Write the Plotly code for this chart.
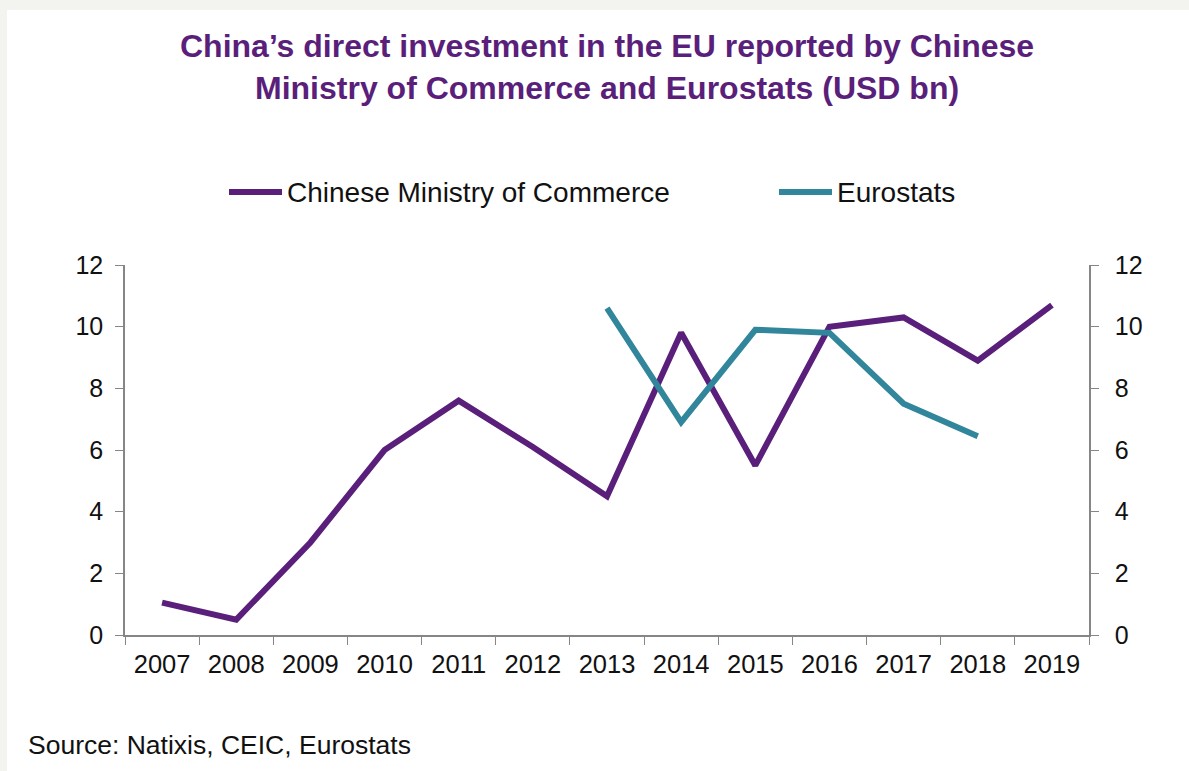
import plotly.graph_objects as go

# Annual China direct investment into the EU, USD bn
years = ["2007", "2008", "2009", "2010", "2011", "2012", "2013",
         "2014", "2015", "2016", "2017", "2018", "2019"]
mofcom = [1.05, 0.5, 3.0, 6.0, 7.6, 6.1, 4.5, 9.8, 5.5, 10.0, 10.3, 8.9, 10.7]
eurostat_years = ["2013", "2014", "2015", "2016", "2017", "2018"]
eurostat = [10.6, 6.9, 9.9, 9.8, 7.5, 6.45]
y_ticks = [0, 2, 4, 6, 8, 10, 12]

series_names = ["Chinese Ministry of Commerce", "Eurostats"]
PURPLE = "#5a1f7a"
TEAL = "#31869b"
AXIS = "#868686"
FONT = "Liberation Sans, Arial, sans-serif"

W, H = 1189, 771
L, R, T, B = 125, 1089, 265, 635  # plot-area edges in pixels


def px(x):
    return (x - L) / (R - L)


def py(y):
    return (B - y) / (B - T)


fig = go.Figure()
fig.add_trace(go.Scatter(x=years, y=mofcom, mode="lines", name=series_names[0],
                         line=dict(color=PURPLE, width=6), showlegend=False,
                         yaxis="y"))
fig.add_trace(go.Scatter(x=eurostat_years, y=eurostat, mode="lines", name=series_names[1],
                         line=dict(color=TEAL, width=6), showlegend=False,
                         yaxis="y2"))

shapes = [
    # white card over the light grey page
    dict(type="rect", xref="paper", yref="paper", x0=px(7), x1=px(W + 5),
         y0=py(H + 5), y1=py(10), fillcolor="white", line=dict(width=0), layer="below"),
    # legend keys
    dict(type="line", xref="paper", yref="paper", x0=px(229), x1=px(282),
         y0=py(192), y1=py(192), line=dict(color=PURPLE, width=6)),
    dict(type="line", xref="paper", yref="paper", x0=px(779), x1=px(832),
         y0=py(192), y1=py(192), line=dict(color=TEAL, width=6)),
]

annotations = [
    dict(text="China’s direct investment in the EU reported by Chinese<br>"
              "Ministry of Commerce and Eurostats (USD bn)",
         xref="paper", yref="paper", x=px(607), y=py(67), xanchor="center",
         yanchor="middle", showarrow=False,
         font=dict(family=FONT, size=32, color=PURPLE, weight="bold")),
    dict(text=series_names[0], xref="paper", yref="paper", x=px(285), y=py(192),
         xanchor="left", yanchor="middle", showarrow=False,
         font=dict(family=FONT, size=28, color="#111111")),
    dict(text=series_names[1], xref="paper", yref="paper", x=px(835), y=py(192),
         xanchor="left", yanchor="middle", showarrow=False,
         font=dict(family=FONT, size=28, color="#111111")),
    dict(text="Source: Natixis, CEIC, Eurostats", xref="paper", yref="paper",
         x=px(26), y=py(745), xanchor="left", yanchor="middle", showarrow=False,
         font=dict(family=FONT, size=26.5, color="#111111")),
]

axis_common = dict(range=[0, 12], tickvals=y_ticks, ticks="outside", ticklen=8,
                   tickcolor=AXIS, showline=True, linecolor=AXIS, linewidth=1.5,
                   showgrid=False, zeroline=False,
                   tickfont=dict(family=FONT, size=25, color="#111111"))

fig.update_layout(
    width=W, height=H,
    margin=dict(l=L, r=W - R, t=T, b=H - B),
    paper_bgcolor="#f3f3ef",
    plot_bgcolor="rgba(0,0,0,0)",
    showlegend=False,
    xaxis=dict(type="category", categoryarray=years, range=[-0.5, 12.5],
               ticks="outside", tickson="boundaries", ticklen=8, tickcolor=AXIS,
               showline=True, linecolor=AXIS, linewidth=1.5, showgrid=False,
               ticklabelstandoff=6,
               tickfont=dict(family=FONT, size=25.5, color="#111111")),
    yaxis=dict(side="left", ticklabelstandoff=7, **axis_common),
    yaxis2=dict(side="right", overlaying="y", ticklabelstandoff=11, **axis_common),
    shapes=shapes,
    annotations=annotations,
)

fig.write_html("out.html")
